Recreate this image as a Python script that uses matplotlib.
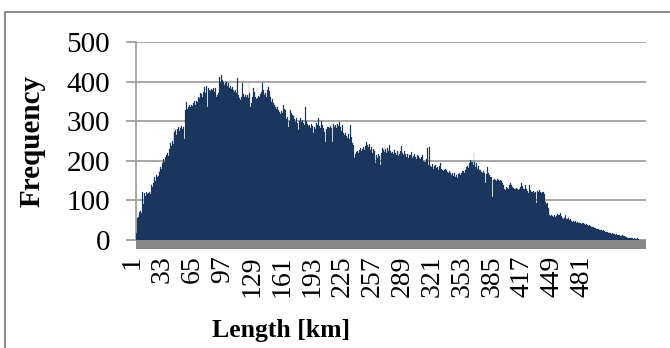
import matplotlib
matplotlib.use("Agg")
import matplotlib.pyplot as plt
from matplotlib.lines import Line2D
from matplotlib.patches import Rectangle
import matplotlib.transforms as mtransforms

# ---- data (frequency per length category, 1 .. 544 km) ----
freq = [
    18, 55, 58, 70, 72, 68, 122, 92, 96, 118, 112, 120, 115, 118, 122, 116,
    140, 135, 145, 160, 150, 165, 158, 162, 178, 172, 185, 180, 195, 205, 198, 210,
    215, 220, 212, 230, 245, 238, 250, 242, 283, 272, 278, 265, 280, 286, 275, 284,
    288, 280, 286, 255, 328, 349, 330, 336, 332, 340, 335, 342, 338, 346, 350, 340,
    352, 348, 362, 358, 370, 368, 362, 375, 380, 386, 372, 390, 335, 384, 380, 376,
    382, 378, 385, 374, 383, 360, 365, 372, 368, 412, 398, 417, 405, 398, 392, 396,
    400, 390, 396, 385, 388, 382, 387, 378, 362, 375, 380, 372, 409, 365, 358, 354,
    362, 397, 368, 362, 365, 360, 366, 358, 396, 372, 337, 345, 360, 384, 375, 362,
    355, 358, 364, 360, 368, 375, 397, 380, 370, 366, 371, 362, 378, 387, 376, 360,
    349, 355, 345, 340, 337, 332, 335, 328, 322, 324, 318, 326, 320, 341, 332, 328,
    305, 310, 286, 300, 328, 320, 316, 312, 302, 306, 298, 307, 295, 278, 300, 307,
    298, 302, 296, 290, 337, 300, 292, 288, 285, 290, 282, 292, 288, 269, 285, 280,
    296, 290, 307, 288, 284, 300, 290, 283, 278, 272, 248, 280, 286, 285, 284, 288,
    282, 248, 292, 285, 290, 282, 294, 288, 280, 298, 286, 275, 290, 270, 264, 270,
    262, 258, 268, 255, 290, 260, 244, 240, 212, 207, 218, 222, 226, 220, 228, 232,
    225, 230, 236, 228, 238, 248, 240, 236, 232, 242, 228, 236, 220, 230, 225, 194,
    215, 208, 218, 212, 189, 220, 232, 228, 236, 222, 230, 219, 232, 226, 241, 225,
    219, 222, 218, 228, 220, 215, 225, 212, 222, 218, 226, 238, 220, 214, 224, 216,
    210, 218, 207, 214, 215, 222, 206, 212, 198, 218, 210, 205, 215, 212, 208, 204,
    210, 214, 200, 198, 196, 205, 232, 190, 202, 236, 188, 185, 192, 180, 186, 190,
    182, 185, 176, 188, 194, 180, 178, 175, 182, 176, 180, 177, 172, 168, 174, 170,
    164, 170, 162, 168, 160, 165, 156, 166, 162, 170, 165, 168, 174, 173, 170, 178,
    185, 188, 182, 194, 202, 196, 198, 190, 219, 198, 185, 194, 180, 186, 178, 177,
    172, 168, 175, 170, 143, 166, 185, 168, 160, 165, 158, 160, 109, 152, 155, 152,
    150, 154, 152, 148, 152, 150, 145, 138, 122, 130, 126, 134, 132, 130, 138, 143,
    139, 135, 132, 128, 130, 132, 128, 126, 124, 130, 134, 143, 136, 130, 128, 139,
    128, 124, 118, 138, 126, 120, 122, 125, 120, 118, 122, 93, 124, 120, 126, 122,
    118, 122, 120, 115, 97, 92, 93, 80, 76, 63, 61, 64, 60, 59, 62, 58,
    60, 66, 62, 64, 68, 60, 56, 54, 57, 55, 63, 52, 54, 55, 50, 52,
    48, 46, 48, 45, 47, 44, 46, 43, 45, 42, 44, 40, 42, 42, 40, 38,
    40, 38, 36, 38, 35, 34, 32, 33, 30, 31, 30, 29, 28, 27, 25, 26,
    24, 23, 25, 22, 20, 21, 19, 18, 20, 17, 17, 16, 18, 15, 14, 13,
    14, 12, 13, 12, 11, 10, 12, 9, 8, 9, 7, 8, 6, 5, 6, 4,
    5, 4, 3, 4, 2, 3, 6, 2, 1, 0, 0, 0, 0, 0, 0, 0,
]
categories = list(range(1, len(freq) + 1))
tick_labels = [str(c) for c in range(1, 482, 32)]
y_ticks = [0, 100, 200, 300, 400, 500]

W, H = 670, 348
fig = plt.figure(figsize=(W / 100, H / 100), dpi=100)
fig.patch.set_facecolor("white")

def px_rect(l, t, r, b):
    return [l / W, 1 - b / H, (r - l) / W, (b - t) / H]

ax = fig.add_axes(px_rect(136, 42, 646, 240))
serif = ["Liberation Serif", "DejaVu Serif"]
grid_c = "#a0a0a0"
bar_c = "#1b365d"

pos = [c - 1 for c in categories]
ax.bar(pos, freq, width=1.0, color=bar_c, edgecolor=bar_c, linewidth=0.15, zorder=3)

ax.set_xlim(-0.5, len(freq) - 0.5)
ax.set_ylim(0, 500)
ax.set_yticks(y_ticks)
ax.set_yticklabels([str(v) for v in y_ticks], fontfamily=serif, fontsize=21)
ax.yaxis.grid(True, color=grid_c, linewidth=1.3, zorder=0)
ax.set_axisbelow(True)
ax.tick_params(axis="y", length=7.5, width=1.3, color=grid_c, pad=11)

tick_pos = [int(t) - 1 for t in tick_labels]
ax.set_xticks(tick_pos)
ax.set_xticklabels(tick_labels, rotation=90, fontfamily=serif, fontsize=20)
ax.tick_params(axis="x", length=0, pad=11)
offset = mtransforms.ScaledTranslation(-4 / 100, 0, fig.dpi_scale_trans)
for lbl in ax.get_xticklabels():
    lbl.set_transform(lbl.get_transform() + offset)

for s in ["top", "right", "bottom"]:
    ax.spines[s].set_visible(False)
ax.spines["left"].set_color(grid_c)
ax.spines["left"].set_linewidth(1.3)

# floor under the bars
ax.add_patch(Rectangle((0, -9 / 198), 1, 9 / 198, transform=ax.transAxes,
                       facecolor="#878787", edgecolor="none", clip_on=False, zorder=4))

ax.set_ylabel("Frequency", fontfamily=serif, fontsize=21, fontweight="bold")
ax.yaxis.set_label_coords((32 - 136) / 510, (240 - 141) / 198)
ax.yaxis.label.set_va("center")
ax.set_xlabel("Length [km]", fontfamily=serif, fontsize=18.5, fontweight="bold")
ax.xaxis.set_label_coords((281 - 136) / 510, (240 - 330) / 198)
ax.xaxis.label.set_va("center")

# outer chart border (top and left visible)
fig.add_artist(Line2D([5 / W, 5 / W, 1.0], [0.0, 1 - 12 / H, 1 - 12 / H],
                      transform=fig.transFigure, color="#8c8c8c", linewidth=1.5))

fig.savefig("out.png", dpi=100)
